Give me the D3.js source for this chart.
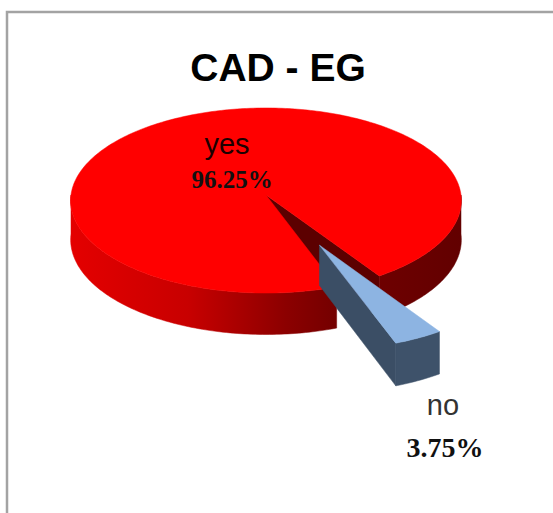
<!DOCTYPE html>
<html>
<head>
<meta charset="utf-8">
<script src="https://cdn.jsdelivr.net/npm/d3@7"></script>
<style>
  html, body { margin: 0; padding: 0; background: #fff; }
  svg { display: block; }
</style>
</head>
<body>
<div id="chart"></div>
<script>
// chart data
const title = "CAD - EG";
const categories = ["yes", "no"];
const values = [96.25, 3.75];
const percentLabels = ["96.25%", "3.75%"];

const width = 553, height = 513;

// 3d pie layout
const cx = 266, cy = 195;     // apex of the top face
const rx = 195, ry = 92.2;    // radii of the top ellipse
const depth = 39;             // thickness of the pie
const persp = 0.0595;         // front looks a bit larger than back
const firstAngle = 160 * Math.PI / 180;
const explode = [0, 0.59];

const topColors = ["#ff0000", "#8db4e2"];
const cutColors = ["#5c0000", "#3b4e65"];
const sideColors = [null, "#3e526a"];

const svg = d3.select("#chart").append("svg")
    .attr("width", width)
    .attr("height", height);

// frame
svg.append("rect")
    .attr("x", 7).attr("y", 12)
    .attr("width", 570).attr("height", 530)
    .attr("fill", "#fff")
    .attr("stroke", "#a3a3a3")
    .attr("stroke-width", 2.5);

// gradient for the red outer wall
const grad = svg.append("defs").append("linearGradient")
    .attr("id", "redSide")
    .attr("gradientUnits", "userSpaceOnUse")
    .attr("x1", cx - rx).attr("y1", 0)
    .attr("x2", cx + rx).attr("y2", 0);
[[0, "#e40000"], [0.3, "#c80000"], [0.55, "#8c0000"], [0.68, "#740000"], [1, "#620000"]]
    .forEach(s => grad.append("stop").attr("offset", s[0]).attr("stop-color", s[1]));
sideColors[0] = "url(#redSide)";

const pie = d3.pie().sort(null)
    .startAngle(firstAngle)
    .endAngle(firstAngle + 2 * Math.PI);
const arcs = pie(values);

// unit disk (u right, v toward viewer), h = 0 top / 1 bottom
function project(u, v, h) {
    const s = 1 / (1 - persp * v);
    return [cx + rx * u * s, cy + (ry * v + depth * h) * s];
}

const line = d3.line();
const step = Math.PI / 180;

function sweep(a0, a1) {
    const list = d3.range(a0, a1, step);
    list.push(a1);
    return list;
}

arcs.forEach((d, i) => {
    const mid = (d.startAngle + d.endAngle) / 2;
    const ou = explode[i] * Math.sin(mid);
    const ov = -explode[i] * Math.cos(mid);
    const rim = (a, h) => project(ou + Math.sin(a), ov - Math.cos(a), h);
    const apex = h => project(ou, ov, h);
    const g = svg.append("g").attr("class", "slice-" + categories[i]);

    // radial cut walls facing the viewer
    const cuts = [];
    if (-Math.sin(d.startAngle) > 0) cuts.push(d.startAngle);
    if (Math.sin(d.endAngle) > 0) cuts.push(d.endAngle);
    cuts.forEach(a => {
        g.append("path")
            .attr("d", line([apex(0), rim(a, 0), rim(a, 1), apex(1)]) + "Z")
            .attr("fill", cutColors[i])
            .attr("stroke", cutColors[i])
            .attr("stroke-width", 0.5);
    });

    // outer wall, only the front half is seen
    for (let k = 0; k < 2; k++) {
        const lo = Math.max(d.startAngle, Math.PI / 2 + 2 * Math.PI * k);
        const hi = Math.min(d.endAngle, 3 * Math.PI / 2 + 2 * Math.PI * k);
        if (hi <= lo) continue;
        const angles = sweep(lo, hi);
        const pts = angles.map(a => rim(a, 0))
            .concat(angles.slice().reverse().map(a => rim(a, 1)));
        g.append("path")
            .attr("d", line(pts) + "Z")
            .attr("fill", sideColors[i])
            .attr("stroke", sideColors[i])
            .attr("stroke-width", 0.5);
    }

    // top face
    const topPts = [apex(0)].concat(sweep(d.startAngle, d.endAngle).map(a => rim(a, 0)));
    g.append("path")
        .attr("d", line(topPts) + "Z")
        .attr("fill", topColors[i])
        .attr("stroke", topColors[i])
        .attr("stroke-width", 0.5);
});

// title
svg.append("text")
    .attr("x", 278).attr("y", 81)
    .attr("text-anchor", "middle")
    .attr("font-family", "Liberation Sans, Arial, sans-serif")
    .attr("font-weight", "bold")
    .attr("font-size", 39)
    .attr("fill", "#000")
    .text(title);

// data labels
const labelPos = [[227, 154], [443, 415]];
const pctPos = [[232, 188], [445, 457]];
const pctSize = [25, 28];

categories.forEach((c, i) => {
    svg.append("text")
        .attr("x", labelPos[i][0]).attr("y", labelPos[i][1])
        .attr("text-anchor", "middle")
        .attr("font-family", "Liberation Sans, Arial, sans-serif")
        .attr("font-size", 29)
        .attr("fill", i === 0 ? "#1c0000" : "#333")
        .text(c);
    svg.append("text")
        .attr("x", pctPos[i][0]).attr("y", pctPos[i][1])
        .attr("text-anchor", "middle")
        .attr("font-family", "Liberation Serif, Times New Roman, serif")
        .attr("font-weight", "bold")
        .attr("font-size", pctSize[i])
        .attr("fill", "#111")
        .text(percentLabels[i]);
});
</script>
</body>
</html>
